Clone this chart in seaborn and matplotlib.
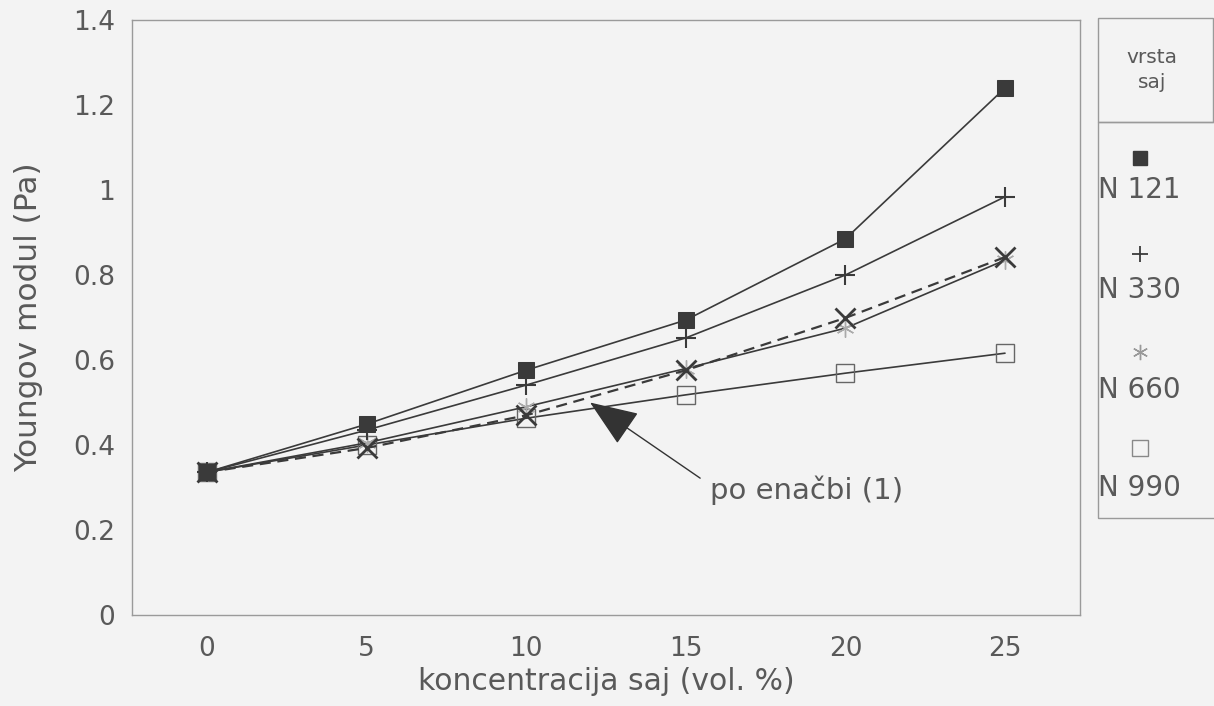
import numpy as np
import pandas as pd
import seaborn as sns
import matplotlib.pyplot as plt
from matplotlib.lines import Line2D
from matplotlib.patches import Rectangle
from matplotlib.ticker import FuncFormatter

# concentration of carbon black (vol. %)
conc = [0, 5, 10, 15, 20, 25]

# Young's modulus per carbon black type
n121 = [0.336, 0.449, 0.576, 0.694, 0.885, 1.240]
n330 = [0.336, 0.435, 0.541, 0.652, 0.800, 0.984]
n660 = [0.336, 0.405, 0.490, 0.580, 0.675, 0.835]
n990 = [0.336, 0.400, 0.463, 0.518, 0.569, 0.616]
# values from equation (1)
enacba = [0.336, 0.393, 0.470, 0.576, 0.699, 0.842]

legend_labels = ["N 121", "N 330", "N 660", "N 990"]

BG = "#f3f3f3"
INK = "#3a3a3a"
TXT = "#595959"

sns.set_style("white")
plt.rcParams["font.family"] = ["DejaVu Sans"]

fig = plt.figure(figsize=(12.14, 7.06), dpi=100, facecolor=BG)
ax = fig.add_axes([132 / 1214, 1 - 615 / 706, (1080 - 132) / 1214, (615 - 20) / 706])
ax.set_facecolor(BG)

line_kw = dict(color=INK, linewidth=1.2)

sns.lineplot(x=conc, y=n990, ax=ax, marker="s", markersize=13,
             markerfacecolor="none", markeredgecolor="#666666", markeredgewidth=1.0, **line_kw)
sns.lineplot(x=conc, y=n660, ax=ax, marker=(6, 2, 0), markersize=13,
             markeredgecolor="#aaaaaa", markeredgewidth=1.0, **line_kw)
sns.lineplot(x=conc, y=enacba, ax=ax, marker="x", markersize=14,
             markeredgecolor=INK, markeredgewidth=2.0, linestyle=(0, (5, 3)),
             color=INK, linewidth=1.6)
sns.lineplot(x=conc, y=n330, ax=ax, marker="+", markersize=14,
             markeredgecolor=INK, markeredgewidth=1.5, **line_kw)
sns.lineplot(x=conc, y=n121, ax=ax, marker="s", markersize=12,
             markerfacecolor=INK, markeredgecolor=INK, **line_kw)

ax.set_xlim(-2.35, 27.35)
ax.set_ylim(0, 1.4)
ax.set_xticks(conc)
ax.set_yticks(np.arange(0, 1.41, 0.2))
ax.yaxis.set_major_formatter(FuncFormatter(lambda v, p: f"{v:g}"))

for s in ax.spines.values():
    s.set_color("#9a9a9a")
    s.set_linewidth(1.0)
ax.tick_params(axis="both", direction="out", length=7, width=1, color="#9a9a9a",
               labelcolor=TXT)
ax.tick_params(axis="y", labelsize=19, pad=5)
ax.tick_params(axis="x", labelsize=19, pad=8)

ax.set_xlabel("koncentracija saj (vol. %)", fontsize=21.5, color=TXT, labelpad=4)
ax.set_ylabel("Youngov modul (Pa)", fontsize=22.5, color=TXT, labelpad=22)

# arrow pointing at the dashed line
ax.annotate("", xy=(12.0, 0.50), xytext=(15.45, 0.322),
            arrowprops=dict(arrowstyle="-|>,head_length=1.4,head_width=0.55",
                            mutation_scale=22, color="#333333", lw=1.0,
                            shrinkA=0, shrinkB=0))
ax.text(15.75, 0.294, "po enačbi (1)", fontsize=21, color=TXT, va="center", ha="left")

# legend boxes on the right
def fx(px):
    return px / 1214


def fy(py):
    return 1 - py / 706


fig.add_artist(Rectangle((fx(1098), fy(122)), fx(1213) - fx(1098), fy(18) - fy(122),
                         transform=fig.transFigure, fill=False, edgecolor="#9a9a9a", lw=1.0))
fig.add_artist(Rectangle((fx(1098), fy(518)), fx(1230) - fx(1098), fy(122) - fy(518),
                         transform=fig.transFigure, fill=False, edgecolor="#9a9a9a", lw=1.0,
                         clip_on=False))
fig.text(fx(1152), fy(70), "vrsta\nsaj", fontsize=14.5, color=TXT, ha="center", va="center",
         linespacing=1.45)

legend_marks = [
    dict(marker="s", markersize=10, markerfacecolor=INK, markeredgecolor=INK),
    dict(marker="+", markersize=12, markeredgecolor=INK, markeredgewidth=1.3),
    dict(marker=(6, 2, 0), markersize=11, markeredgecolor="#999999", markeredgewidth=1.0),
    dict(marker="s", markersize=11, markerfacecolor="none", markeredgecolor="#888888",
         markeredgewidth=1.0),
]
mark_y = [158, 254, 352, 448]
label_y = [190, 290, 390, 488]
for mk, my, ly, lab in zip(legend_marks, mark_y, label_y, legend_labels):
    fig.add_artist(Line2D([fx(1140)], [fy(my)], transform=fig.transFigure,
                          linestyle="none", **mk))
    fig.text(fx(1139), fy(ly), lab, fontsize=20, color=TXT, ha="center", va="center")

fig.savefig("out.png", dpi=100, facecolor=BG)
